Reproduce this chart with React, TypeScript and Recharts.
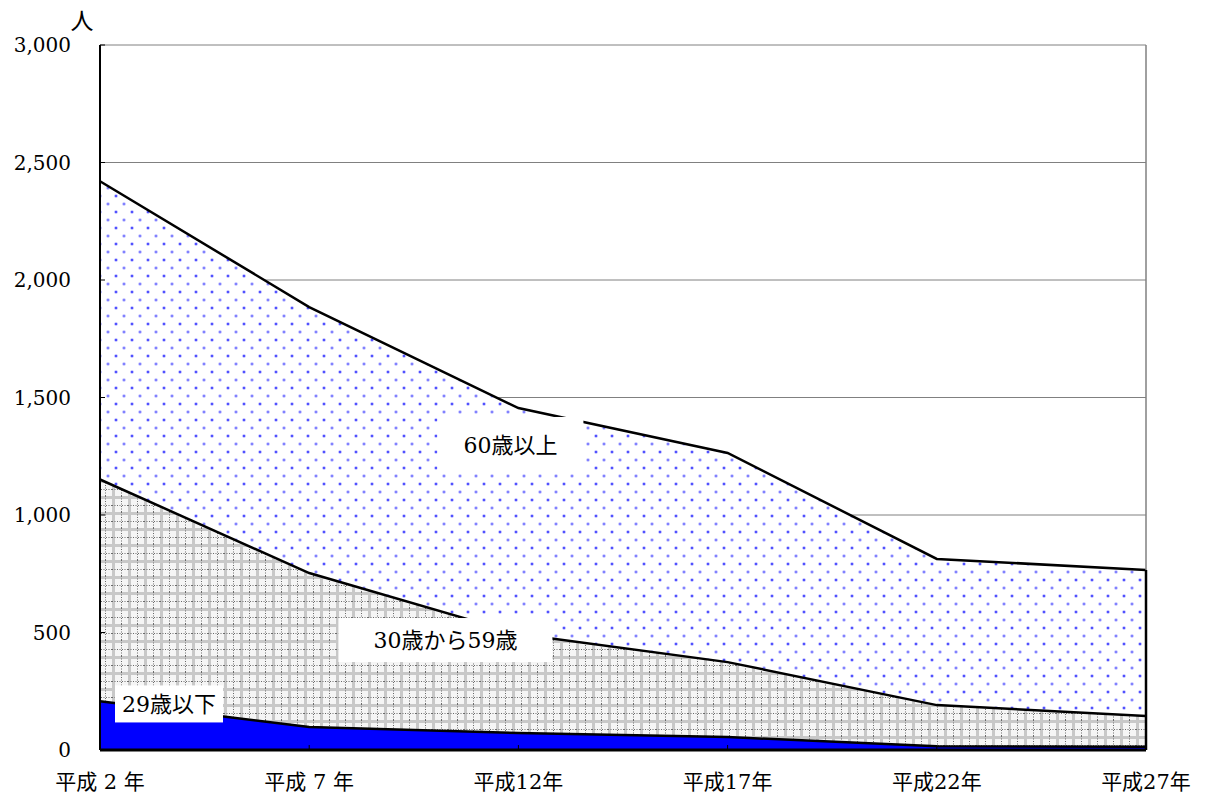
import { ComposedChart, Area, Line, XAxis, YAxis, CartesianGrid, ReferenceLine, ReferenceDot } from "recharts"

const years = ["平成 2 年", "平成 7 年", "平成12年", "平成17年", "平成22年", "平成27年"]
const under29 = [207, 98, 72, 55, 16, 14]
const age30to59 = [944, 655, 422, 319, 175, 131]
const over60 = [1269, 1132, 961, 890, 622, 621]
const yTicks = [0, 500, 1000, 1500, 2000, 2500, 3000]

// label anchors: [category index, y value, x offset px, box w, box h, text]
const seriesLabels: [number, number, number, number, number, string][] = [
  [2, 1298, -8, 146, 56, "60歳以上"],
  [2, 468, -73, 214, 44, "30歳から59歳"],
  [0, 196, 69, 108, 37, "29歳以下"],
]

const FONT = "'DejaVu Serif', 'Noto Sans CJK JP', serif"

const data = years.map((y, i) => ({
  year: y,
  u29: under29[i],
  a30: age30to59[i],
  o60: over60[i],
  c1: under29[i],
  c2: under29[i] + age30to59[i],
  c3: under29[i] + age30to59[i] + over60[i],
}))

const lastTotal = data[5].c3

function YTick({ x, y, payload }: any) {
  return (
    <g>
      <line x1={x} x2={x + 5} y1={y} y2={y} stroke="#000" strokeWidth={1} />
      <text x={x - 29} y={y} dy="0.35em" textAnchor="end" fontSize={20} fontFamily={FONT} fill="#000">
        {payload.value.toLocaleString("en-US")}
      </text>
    </g>
  )
}

function XTick({ x, y, payload }: any) {
  return (
    <g>
      <line x1={x} x2={x} y1={y} y2={y - 5} stroke="#000" strokeWidth={1} />
      <text x={x} y={y + 32} dy="0.35em" textAnchor="middle" fontSize={21} fontFamily={FONT} fill="#000">
        {payload.value}
      </text>
    </g>
  )
}

function makeLabel(text: string, dx: number, w: number, h: number) {
  return (p: any) => {
    const cx = p.cx + dx
    return (
      <g>
        <rect x={cx - w / 2} y={p.cy - h / 2} width={w} height={h} fill="#fff" />
        <text x={cx} y={p.cy} dy="0.35em" textAnchor="middle" fontSize={22} fontFamily={FONT} fill="#000">
          {text}
        </text>
      </g>
    )
  }
}

export default function App() {
  return (
    <div style={{ position: "absolute", left: 0, top: 0, background: "#fff" }}>
      <ComposedChart width={1207} height={796} data={data} margin={{ top: 45, right: 61, bottom: 16, left: 0 }}>
        <defs>
          <pattern id="dots" width={16} height={16} patternUnits="userSpaceOnUse">
            <rect width={16} height={16} fill="#fff" />
            <circle cx={4} cy={4} r={1.8} fill="#a8a8ff" />
            <circle cx={4} cy={4} r={0.9} fill="#2828ff" />
            <circle cx={12} cy={12} r={1.8} fill="#b4b4ff" />
            <circle cx={12} cy={12} r={0.8} fill="#4040ff" />
          </pattern>
          <pattern id="plaid" width={16} height={16} patternUnits="userSpaceOnUse">
            <rect width={16} height={16} fill="#f5f5f5" />
            <rect x={0} y={0} width={3} height={16} fill="#c8c8c8" />
            <rect x={0} y={0} width={16} height={3} fill="#c8c8c8" />
            <line x1={9.5} x2={9.5} y1={0} y2={16} stroke="#6a6a6a" strokeWidth={1} strokeDasharray="1 1.5" />
            <line x1={0} x2={16} y1={9.5} y2={9.5} stroke="#6a6a6a" strokeWidth={1} strokeDasharray="1 1.5" />
          </pattern>
        </defs>
        <CartesianGrid vertical={false} stroke="#808080" strokeWidth={1} />
        <Area type="linear" dataKey="u29" stackId="1" stroke="none" fill="#0000ff" fillOpacity={1} activeDot={false} isAnimationActive={false} />
        <Area type="linear" dataKey="a30" stackId="1" stroke="none" fill="url(#plaid)" fillOpacity={1} activeDot={false} isAnimationActive={false} />
        <Area type="linear" dataKey="o60" stackId="1" stroke="none" fill="url(#dots)" fillOpacity={1} activeDot={false} isAnimationActive={false} />
        <Line type="linear" dataKey="c1" stroke="#000" strokeWidth={2.5} dot={false} activeDot={false} isAnimationActive={false} />
        <Line type="linear" dataKey="c2" stroke="#000" strokeWidth={2.5} dot={false} activeDot={false} isAnimationActive={false} />
        <Line type="linear" dataKey="c3" stroke="#000" strokeWidth={2.5} dot={false} activeDot={false} isAnimationActive={false} />
        <ReferenceLine x={years[5]} stroke="#808080" strokeWidth={1.5} />
        <ReferenceLine
          segment={[
            { x: years[5], y: 0 },
            { x: years[5], y: lastTotal },
          ]}
          stroke="#000"
          strokeWidth={2.5}
        />
        <XAxis
          dataKey="year"
          tickSize={0}
          tickMargin={0}
          tickLine={false}
          axisLine={{ stroke: "#000", strokeWidth: 3 }}
          tick={<XTick />}
          interval={0}
          height={30}
        />
        <YAxis
          domain={[0, 3000]}
          ticks={yTicks}
          width={100}
          tickSize={0}
          tickMargin={0}
          tickLine={false}
          axisLine={{ stroke: "#000", strokeWidth: 2 }}
          tick={<YTick />}
          label={{
            content: (p: any) => (
              <text
                x={p.viewBox.x + 82}
                y={p.viewBox.y - 24}
                dy="0.35em"
                textAnchor="middle"
                fontSize={23}
                fontFamily={FONT}
                fill="#000"
              >
                人
              </text>
            ),
          }}
        />
        {seriesLabels.map(([ci, v, dx, w, h, t]) => (
          <ReferenceDot key={t} x={years[ci]} y={v} r={0} shape={makeLabel(t, dx, w, h)} />
        ))}
      </ComposedChart>
    </div>
  )
}
